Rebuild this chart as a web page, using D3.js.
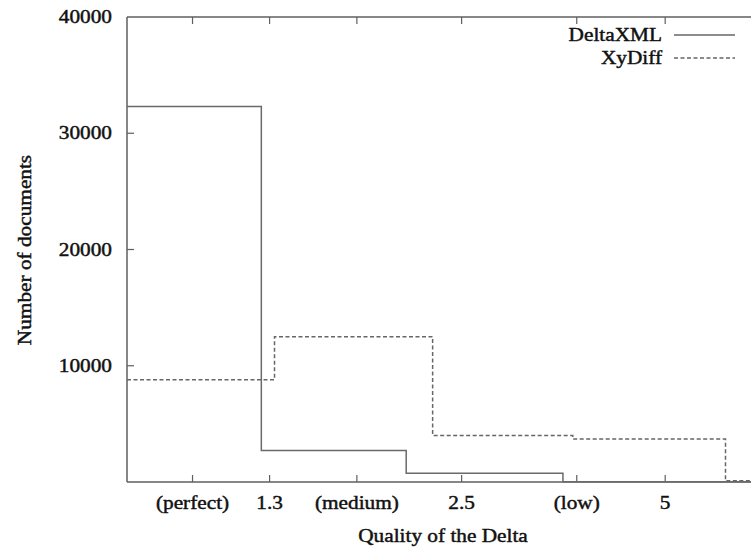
<!DOCTYPE html>
<html><head><meta charset="utf-8">
<script src="https://cdn.jsdelivr.net/npm/d3@7"></script>
<style>body{margin:0;background:#fff}svg{display:block}
text{stroke:#111;stroke-width:0.45px}</style>
</head><body>
<svg id="c" width="751" height="551"></svg>
<script>
// Data
const tickValues = [1, 1.3, 1.75, 2.5, 3.7, 5];
const tickLabels = ["(perfect)", "1.3", "(medium)", "2.5", "(low)", "5"];
const yTicks = [10000, 20000, 30000, 40000];
const deltaEdges = [0.8, 1.264, 2.07, 3.53, 7];
const deltaValues = [32300, 2700, 750, 30];
const xyEdges = [0.8, 1.322, 2.265, 3.65, 6.14, 7];
const xyValues = [8800, 12500, 4000, 3700, 100];
const seriesNames = ["DeltaXML", "XyDiff"];

const svg = d3.select("#c");
const L = 127, T = 17, B = 482;
const x = d3.scaleLog().domain([0.8, 7]).range([L, 764]);
const y = d3.scaleLinear().domain([0, 40000]).range([B, T]);
const axisColor = "#5f5f5f";
const font = "'Liberation Serif','Times New Roman',serif";
const fs = 19, stretch = 1.12;

function stretchText(sel) {
  sel.each(function () {
    const w = this.getComputedTextLength();
    d3.select(this).attr("textLength", w * stretch).attr("lengthAdjust", "spacingAndGlyphs");
  });
}

// frame
const g = svg.append("g");
g.append("line").attr("x1", L).attr("x2", L).attr("y1", T).attr("y2", B)
  .attr("stroke", axisColor).attr("stroke-width", 1.5);
g.append("line").attr("x1", L).attr("x2", 751).attr("y1", T).attr("y2", T)
  .attr("stroke", axisColor).attr("stroke-width", 1.5);
g.append("line").attr("x1", L).attr("x2", 751).attr("y1", B).attr("y2", B)
  .attr("stroke", axisColor).attr("stroke-width", 1.5);

// x ticks (bottom up, top down)
tickValues.forEach((v, i) => {
  const px = x(v);
  g.append("line").attr("x1", px).attr("x2", px).attr("y1", B).attr("y2", B - 7)
    .attr("stroke", axisColor).attr("stroke-width", 1.2);
  g.append("line").attr("x1", px).attr("x2", px).attr("y1", T).attr("y2", T + 7)
    .attr("stroke", axisColor).attr("stroke-width", 1.2);
  g.append("text").attr("x", px).attr("y", 509).attr("text-anchor", "middle")
    .attr("font-family", font).attr("font-size", fs).attr("fill", "#111")
    .text(tickLabels[i]).call(stretchText);
});

// y ticks
yTicks.forEach(v => {
  const py = y(v);
  if (v < 40000) g.append("line").attr("x1", L).attr("x2", L + 7).attr("y1", py).attr("y2", py)
    .attr("stroke", axisColor).attr("stroke-width", 1.2);
  g.append("text").attr("x", 112).attr("y", py + 6).attr("text-anchor", "end")
    .attr("font-family", font).attr("font-size", fs).attr("fill", "#111")
    .text(v).call(stretchText);
});

// axis titles
g.append("text").attr("x", 443).attr("y", 542).attr("text-anchor", "middle")
  .attr("font-family", font).attr("font-size", fs).attr("fill", "#111")
  .text("Quality of the Delta").call(stretchText);
g.append("text").attr("transform", "translate(31,250) rotate(-90)").attr("text-anchor", "middle")
  .attr("font-family", font).attr("font-size", fs).attr("fill", "#111")
  .text("Number of documents").call(stretchText);

// series
function stepPoints(edges, vals) {
  const pts = vals.map((v, i) => [edges[i], v]);
  pts.push([edges[edges.length - 1], vals[vals.length - 1]]);
  return pts;
}
const line = d3.line().x(d => x(d[0])).y(d => y(d[1])).curve(d3.curveStepAfter);
g.append("path").attr("d", line(stepPoints(xyEdges, xyValues)))
  .attr("fill", "none").attr("stroke", "#666").attr("stroke-width", 1.5)
  .attr("stroke-dasharray", "4,2.5");
g.append("path").attr("d", line(stepPoints(deltaEdges, deltaValues)))
  .attr("fill", "none").attr("stroke", "#6a6a6a").attr("stroke-width", 1.5);

// legend
const legY = [35, 58];
const dashes = [null, "4,2.5"];
seriesNames.forEach((n, i) => {
  g.append("text").attr("x", 662).attr("y", legY[i] + 6).attr("text-anchor", "end")
    .attr("font-family", font).attr("font-size", fs).attr("fill", "#111")
    .text(n).call(stretchText);
  g.append("line").attr("x1", 674).attr("x2", 735).attr("y1", legY[i]).attr("y2", legY[i])
    .attr("stroke", "#666").attr("stroke-width", 1.3)
    .attr("stroke-dasharray", dashes[i]);
});
</script>
</body></html>
